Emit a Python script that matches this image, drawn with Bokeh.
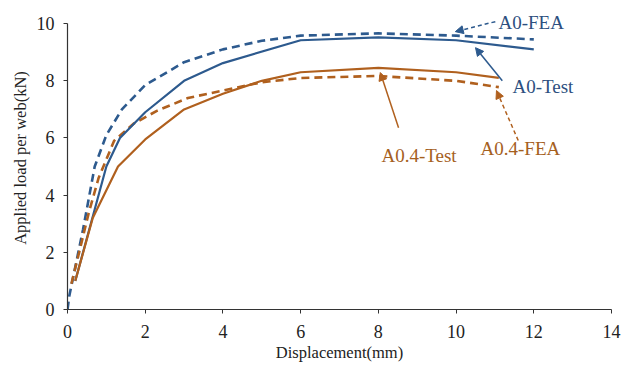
from bokeh.plotting import figure
from bokeh.models import Range1d, Arrow, NormalHead, Label
from bokeh.embed import file_html
from bokeh.resources import INLINE

# ---- data ----
a0_test_x = [0.2, 0.6, 1.0, 1.35, 2.0, 3.0, 4.0, 6.0, 8.0, 10.0, 12.0]
a0_test_y = [1.0, 3.0, 5.0, 6.0, 6.9, 8.0, 8.62, 9.42, 9.52, 9.42, 9.1]

a04_test_x = [0.2, 0.65, 1.3, 2.0, 3.0, 4.0, 5.0, 6.0, 8.0, 10.0, 11.1]
a04_test_y = [1.0, 3.2, 5.0, 5.95, 7.0, 7.55, 8.0, 8.3, 8.45, 8.3, 8.1]

a0_fea_x = [0, 0.05, 0.4, 0.7, 1.0, 1.4, 2.0, 3.0, 4.0, 5.0, 6.0, 8.0, 10.0, 12.0]
a0_fea_y = [0, 0.5, 2.8, 5.0, 6.1, 7.0, 7.85, 8.65, 9.1, 9.4, 9.58, 9.66, 9.58, 9.45]

a04_fea_x = [0.1, 0.3, 0.55, 0.8, 1.2, 1.7, 2.3, 3.1, 4.0, 5.0, 6.0, 8.0, 10.0, 11.1]
a04_fea_y = [0.9, 2.0, 3.4, 4.6, 5.9, 6.5, 6.95, 7.4, 7.66, 7.95, 8.1, 8.17, 8.0, 7.78]

x_ticks = [0, 2, 4, 6, 8, 10, 12, 14]
y_ticks = [0, 2, 4, 6, 8, 10]

# annotation labels: text, x, y ; arrows: start -> end
label_texts = ["A0-FEA", "A0-Test", "A0.4-Test", "A0.4-FEA"]
label_x = [11.09, 11.45, 8.08, 10.63]
label_y = [10.03, 7.8, 5.38, 5.63]
arrow_x0 = [11.01, 11.19, 8.52, 11.6]
arrow_y0 = [10.07, 8.0, 6.36, 5.91]
arrow_x1 = [9.98, 10.5, 8.05, 11.04]
arrow_y1 = [9.72, 9.16, 8.29, 7.66]

BLUE = "#2d5a8e"
ORANGE = "#b0601e"
BLUE_T = "#2d4f80"
ORANGE_T = "#a5601e"
FONT = "Liberation Serif"

p = figure(width=630, height=365, output_backend="svg", toolbar_location=None,
           x_range=Range1d(0, 14), y_range=Range1d(0, 10.6),
           min_border_left=67, min_border_right=19, min_border_top=6, min_border_bottom=56)
p.outline_line_color = None
p.grid.visible = False
p.background_fill_color = "white"
p.border_fill_color = "white"

p.line(a0_fea_x, a0_fea_y, color=BLUE, line_width=2.6, line_dash="8 5")
p.line(a04_fea_x, a04_fea_y, color=ORANGE, line_width=2.6, line_dash="8 5")
p.line(a0_test_x, a0_test_y, color=BLUE, line_width=2.2)
p.line(a04_test_x, a04_test_y, color=ORANGE, line_width=2.2)

for ax in (p.xaxis[0], p.yaxis[0]):
    ax.axis_line_color = "#333333"
    ax.axis_line_width = 1.2
    ax.major_tick_line_color = "#333333"
    ax.major_tick_in = 0
    ax.major_tick_out = 4
    ax.minor_tick_line_color = None
    ax.major_label_text_font = FONT
    ax.major_label_text_font_size = "18px"
    ax.major_label_text_color = "#222222"
    ax.axis_label_text_font = FONT
    ax.axis_label_text_font_size = "16.5px"
    ax.axis_label_text_font_style = "normal"
    ax.axis_label_text_color = "#222222"

p.yaxis.bounds = (0, 10)
p.xaxis.ticker = x_ticks
p.yaxis.ticker = y_ticks
p.xaxis.axis_label = "Displacement(mm)"
p.yaxis.axis_label = "Applied load per web(kN)"
p.xaxis.major_label_standoff = 11
p.xaxis.axis_label_standoff = 2
p.yaxis.major_label_standoff = 9
p.yaxis.axis_label_standoff = 4

colors = [BLUE, BLUE, ORANGE, ORANGE]
tcolors = [BLUE_T, BLUE_T, ORANGE_T, ORANGE_T]
dashes = ["4 3", "solid", "solid", "4 3"]
for i in range(4):
    p.add_layout(Arrow(end=NormalHead(size=8, fill_color=colors[i], line_color=colors[i]),
                       x_start=arrow_x0[i], y_start=arrow_y0[i],
                       x_end=arrow_x1[i], y_end=arrow_y1[i],
                       line_color=colors[i], line_width=1.5, line_dash=dashes[i]))
    p.add_layout(Label(x=label_x[i], y=label_y[i], text=label_texts[i],
                       text_font=FONT, text_font_size="19px", text_color=tcolors[i],
                       text_baseline="middle", text_align="left"))

open("out.html", "w").write(file_html(p, INLINE))
